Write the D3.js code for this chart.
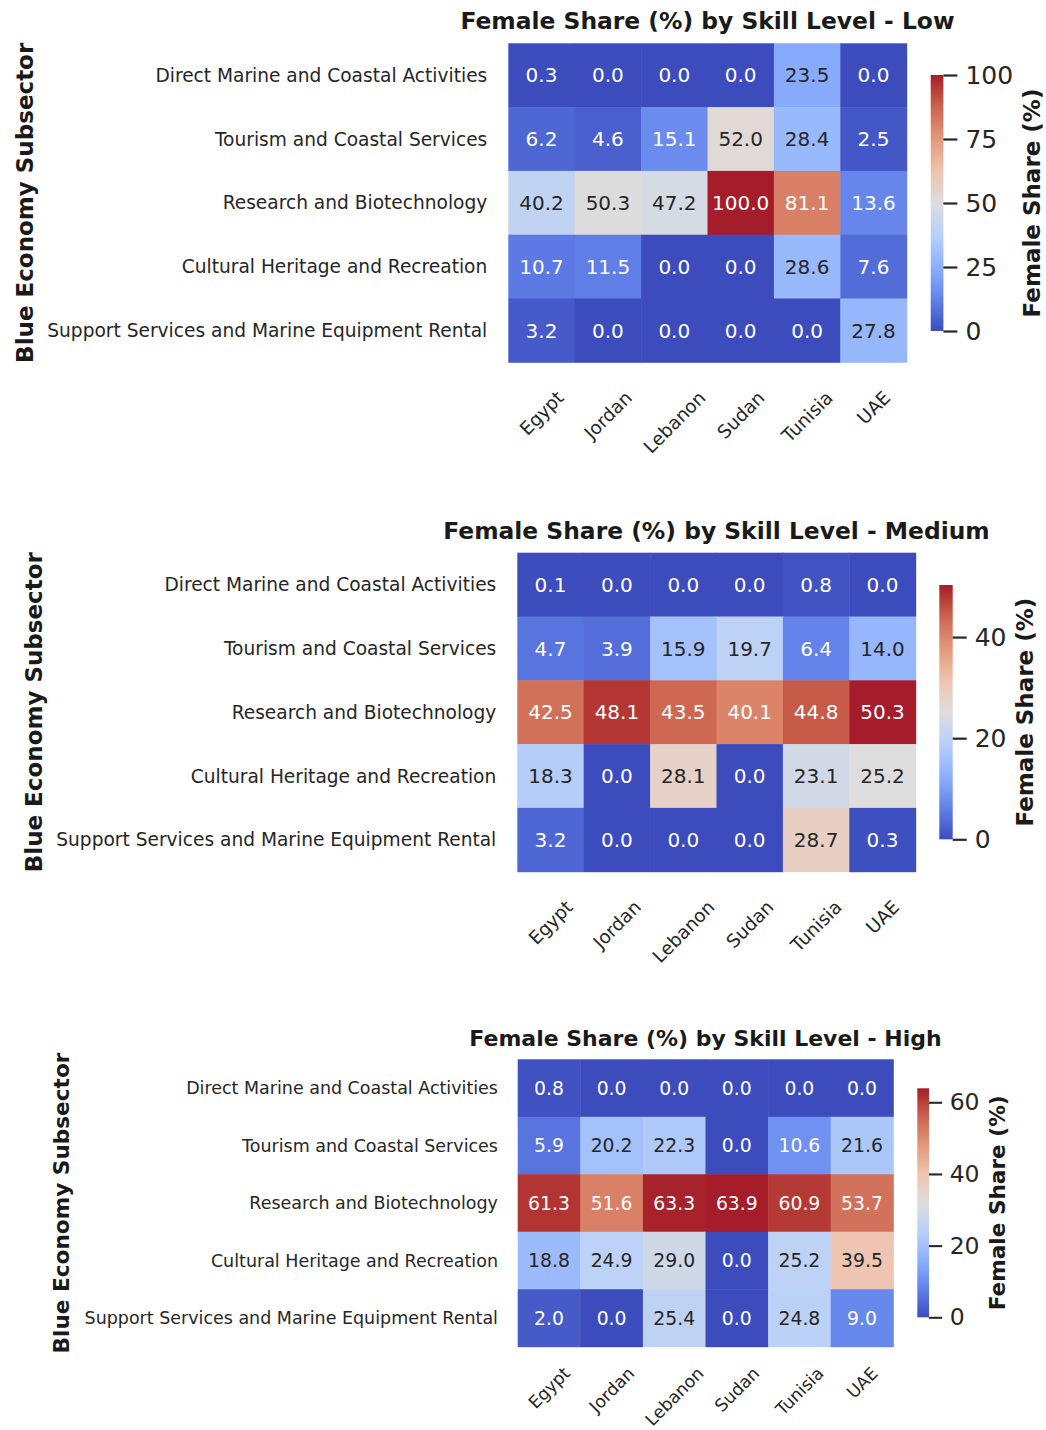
<!DOCTYPE html>
<html>
<head>
<meta charset="utf-8">
<script src="https://cdn.jsdelivr.net/npm/d3@7"></script>
<style>
  html, body { margin: 0; padding: 0; background: #fff; }
  svg { display: block; font-family: "DejaVu Sans", sans-serif; }
</style>
</head>
<body>
<svg id="chart" width="1046" height="1430"></svg>
<script>
// Female share (%) of employment by blue-economy subsector, country and skill level
const countries = ["Egypt", "Jordan", "Lebanon", "Sudan", "Tunisia", "UAE"];
const subsectors = [
  "Direct Marine and Coastal Activities",
  "Tourism and Coastal Services",
  "Research and Biotechnology",
  "Cultural Heritage and Recreation",
  "Support Services and Marine Equipment Rental"
];
const lowShare = [
  [0.3, 0.0, 0.0, 0.0, 23.5, 0.0],
  [6.2, 4.6, 15.1, 52.0, 28.4, 2.5],
  [40.2, 50.3, 47.2, 100.0, 81.1, 13.6],
  [10.7, 11.5, 0.0, 0.0, 28.6, 7.6],
  [3.2, 0.0, 0.0, 0.0, 0.0, 27.8]
];
const mediumShare = [
  [0.1, 0.0, 0.0, 0.0, 0.8, 0.0],
  [4.7, 3.9, 15.9, 19.7, 6.4, 14.0],
  [42.5, 48.1, 43.5, 40.1, 44.8, 50.3],
  [18.3, 0.0, 28.1, 0.0, 23.1, 25.2],
  [3.2, 0.0, 0.0, 0.0, 28.7, 0.3]
];
const highShare = [
  [0.8, 0.0, 0.0, 0.0, 0.0, 0.0],
  [5.9, 20.2, 22.3, 0.0, 10.6, 21.6],
  [61.3, 51.6, 63.3, 63.9, 60.9, 53.7],
  [18.8, 24.9, 29.0, 0.0, 25.2, 39.5],
  [2.0, 0.0, 25.4, 0.0, 24.8, 9.0]
];
const lowTicks = [0, 25, 50, 75, 100];
const mediumTicks = [0, 20, 40];
const highTicks = [0, 20, 40, 60];
const skillLevels = ["Low", "Medium", "High"];

// coolwarm-style diverging colormap (blue -> grey -> red)
const coolwarmStops = ["#3c4cbd", "#6282ea", "#8db0fe", "#b8d0f9", "#dddddd",
                       "#eec4af", "#e4987a", "#cc6450", "#ba4238", "#a51c2a"];
const coolwarmPos = [0, 0.125, 0.25, 0.375, 0.5, 0.625, 0.75, 0.875, 0.9375, 1];
const coolwarm = d3.scaleLinear()
  .domain(coolwarmPos)
  .range(coolwarmStops)
  .interpolate(d3.interpolateRgb)
  .clamp(true);

function luminance(c) {
  const rgb = d3.rgb(c);
  const lin = v => { v /= 255; return v <= 0.03928 ? v / 12.92 : Math.pow((v + 0.055) / 1.055, 2.4); };
  return 0.2126 * lin(rgb.r) + 0.7152 * lin(rgb.g) + 0.0722 * lin(rgb.b);
}

const INK = "#262626";

// panel geometry
const panels = [
  { level: skillLevels[0], values: lowShare, ticks: lowTicks, k: 1,
    x0: 508.3, x1: 906.7, y0: 43.3, y1: 362.3,
    cbX: 930.7, cbW: 12.7, cbY0: 75, cbY1: 331,
    titleY: 29, yLabX: 33, cbLabX: 1040, xLabGap: 27 },
  { level: skillLevels[1], values: mediumShare, ticks: mediumTicks, k: 1,
    x0: 517.3, x1: 915.7, y0: 552.7, y1: 871.7,
    cbX: 939.3, cbW: 13.4, cbY0: 585, cbY1: 839.3,
    titleY: 538.5, yLabX: 42, cbLabX: 1033, xLabGap: 27 },
  { level: skillLevels[2], values: highShare, ticks: highTicks, k: 0.94,
    x0: 517.7, x1: 893.3, y0: 1059.3, y1: 1346.7,
    cbX: 917.3, cbW: 11.7, cbY0: 1088.3, cbY1: 1317.3,
    titleY: 1046, yLabX: 69, cbLabX: 1005, xLabGap: 20 }
];

const svg = d3.select("#chart");
const defs = svg.append("defs");

panels.forEach((p, pi) => {
  const k = p.k;
  const g = svg.append("g");
  const vmax = d3.max(p.values.flat());
  const color = v => coolwarm(v / vmax);

  const x = d3.scaleBand().domain(countries).range([p.x0, p.x1]);
  const y = d3.scaleBand().domain(subsectors).range([p.y0, p.y1]);

  const cells = [];
  p.values.forEach((row, r) => row.forEach((v, c) => cells.push({ sub: subsectors[r], country: countries[c], v })));

  // heatmap cells
  g.selectAll("rect.cell").data(cells).join("rect")
    .attr("class", "cell")
    .attr("x", d => x(d.country))
    .attr("y", d => y(d.sub))
    .attr("width", x.bandwidth() + 0.5)
    .attr("height", y.bandwidth() + 0.5)
    .attr("fill", d => color(d.v));

  // cell annotations
  g.selectAll("text.annot").data(cells).join("text")
    .attr("class", "annot")
    .attr("x", d => x(d.country) + x.bandwidth() / 2)
    .attr("y", d => y(d.sub) + y.bandwidth() / 2)
    .attr("dy", "0.36em")
    .attr("text-anchor", "middle")
    .attr("font-size", 20 * k)
    .attr("fill", d => luminance(color(d.v)) > 0.408 ? INK : "#ffffff")
    .text(d => d.v.toFixed(1));

  // title
  g.append("text")
    .attr("x", (p.x0 + p.x1) / 2)
    .attr("y", p.titleY)
    .attr("text-anchor", "middle")
    .attr("font-size", 23.4 * k)
    .attr("font-weight", "bold")
    .attr("fill", "#1a1a1a")
    .text(`Female Share (%) by Skill Level - ${p.level}`);

  // row labels
  g.selectAll("text.ytick").data(subsectors).join("text")
    .attr("class", "ytick")
    .attr("x", p.x0 - 21 * k)
    .attr("y", d => y(d) + y.bandwidth() / 2)
    .attr("dy", "0.36em")
    .attr("text-anchor", "end")
    .attr("font-size", 18.6 * k)
    .attr("fill", INK)
    .text(d => d);

  // column labels, rotated 45 degrees, bounding box centred on the column
  const labTop = p.y1 + p.xLabGap * k;
  g.selectAll("text.xtick").data(countries).join("text")
    .attr("class", "xtick")
    .attr("text-anchor", "middle")
    .attr("dy", "0.36em")
    .attr("font-size", 18.4 * k)
    .attr("fill", INK)
    .text(d => d)
    .each(function (d) {
      const w = this.getComputedTextLength();
      const h = 0.76 * 18.4 * k;
      const half = (w + h) * Math.SQRT1_2 / 2;
      const cx = x(d) + x.bandwidth() / 2;
      const cy = labTop + half;
      d3.select(this).attr("transform", `translate(${cx},${cy}) rotate(-45)`);
    });

  // y axis title
  g.append("text")
    .attr("transform", `translate(${p.yLabX},${(p.y0 + p.y1) / 2}) rotate(-90)`)
    .attr("text-anchor", "middle")
    .attr("font-size", 23 * k)
    .attr("font-weight", "bold")
    .attr("fill", "#1a1a1a")
    .text("Blue Economy Subsector");

  // colour bar
  const gradId = `cw-grad-${pi}`;
  const grad = defs.append("linearGradient")
    .attr("id", gradId)
    .attr("x1", 0).attr("y1", 1).attr("x2", 0).attr("y2", 0);
  d3.range(0, 1.0001, 0.02).forEach(t => {
    grad.append("stop").attr("offset", t).attr("stop-color", coolwarm(t));
  });
  g.append("rect")
    .attr("x", p.cbX)
    .attr("y", p.cbY0)
    .attr("width", p.cbW)
    .attr("height", p.cbY1 - p.cbY0)
    .attr("fill", `url(#${gradId})`);

  const cbScale = d3.scaleLinear().domain([0, vmax]).range([p.cbY1, p.cbY0]);
  const cbAxis = d3.axisRight(cbScale)
    .tickValues(p.ticks)
    .tickSize(14 * k)
    .tickPadding(8 * k)
    .tickFormat(d3.format("d"));
  const axG = g.append("g")
    .attr("transform", `translate(${p.cbX + p.cbW},0)`)
    .call(cbAxis);
  axG.select(".domain").remove();
  axG.selectAll(".tick line").attr("stroke", INK).attr("stroke-width", 2.2 * k);
  axG.selectAll(".tick text")
    .attr("font-size", 25 * k)
    .attr("font-family", "DejaVu Sans, sans-serif")
    .attr("fill", INK);

  g.append("text")
    .attr("transform", `translate(${p.cbLabX},${(p.cbY0 + p.cbY1) / 2}) rotate(-90)`)
    .attr("text-anchor", "middle")
    .attr("font-size", 23 * k)
    .attr("font-weight", "bold")
    .attr("fill", "#1a1a1a")
    .text("Female Share (%)");
});
</script>
</body>
</html>
